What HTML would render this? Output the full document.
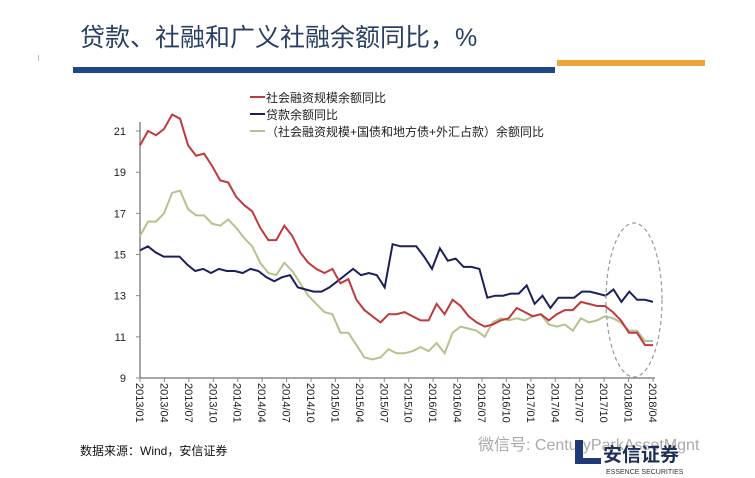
<!DOCTYPE html>
<html><head><meta charset="utf-8"><style>
html,body{margin:0;padding:0;background:#fff;}
body{width:755px;height:478px;overflow:hidden;position:relative;font-family:"Liberation Sans","Noto Sans CJK SC",sans-serif;}
</style></head><body>
<svg id="s" width="755" height="478" xmlns="http://www.w3.org/2000/svg" style="position:absolute;left:0;top:0">
<text x="80" y="46" font-size="25" fill="#2a3f66" font-family="Liberation Sans, Noto Sans CJK SC, sans-serif">贷款、社融和广义社融余额同比，%</text>
<rect x="73" y="67" width="482" height="6" fill="#1f4788"/>
<rect x="557" y="60" width="148" height="6" fill="#eba53a"/>
<rect x="38" y="55" width="1" height="6" fill="#bbb"/>
<g stroke="#888" stroke-width="1.5" fill="none">
<line x1="140" y1="122" x2="140" y2="378"/>
<line x1="140" y1="378" x2="655" y2="378"/>
</g>
<g id="ticks"></g>
<g id="lines"></g>
<ellipse cx="634" cy="300" rx="28" ry="77" fill="none" stroke="#999" stroke-dasharray="4,3" stroke-width="1.2"/>
<g font-size="12" fill="#222">
<line x1="250" y1="97" x2="265" y2="97" stroke="#c0393f" stroke-width="2"/>
<text x="266" y="102">社会融资规模余额同比</text>
<line x1="250" y1="114" x2="265" y2="114" stroke="#1c1f5e" stroke-width="2"/>
<text x="266" y="119">贷款余额同比</text>
<line x1="250" y1="131" x2="265" y2="131" stroke="#b5c28d" stroke-width="2"/>
<text x="266" y="136">（社会融资规模+国债和地方债+外汇占款）余额同比</text>
</g>
<text x="80" y="455" font-size="12" fill="#111">数据来源：Wind，安信证券</text>
<text x="478" y="450" font-size="16" fill="#aaa">微信号: CenturyParkAssetMgnt</text>
<path d="M575 440 h8 v18 h18 v6 h-26z" fill="#1f3a78"/>
<text x="603" y="461" font-size="19" fill="#1f2f55" font-weight="bold">安信证券</text>
<text x="606" y="474" font-size="7" fill="#333">ESSENCE SECURITIES</text>
</svg>
<script>
var red=[20.3,21,20.8,21.1,21.8,21.6,20.3,19.8,19.9,19.3,18.6,18.5,17.8,17.4,17.1,16.3,15.7,15.7,16.4,15.9,15.1,14.6,14.3,14.1,14.3,13.6,13.8,12.8,12.3,12.0,11.7,12.1,12.1,12.2,12.0,11.8,11.8,12.6,12.1,12.8,12.5,12.0,11.7,11.5,11.6,11.8,11.9,12.4,12.2,12.0,12.1,11.8,12.1,12.3,12.3,12.7,12.6,12.5,12.5,12.2,11.8,11.2,11.2,10.6,10.6];
var blue=[15.2,15.4,15.1,14.9,14.9,14.9,14.5,14.2,14.3,14.1,14.3,14.2,14.2,14.1,14.3,14.2,13.9,13.7,13.9,14.0,13.4,13.3,13.2,13.2,13.4,13.7,14.0,14.3,14.0,14.1,14.0,13.4,15.5,15.4,15.4,15.4,14.9,14.3,15.3,14.7,14.8,14.4,14.4,14.3,12.9,13.0,13.0,13.1,13.1,13.5,12.6,13.0,12.4,12.9,12.9,12.9,13.2,13.2,13.1,13.0,13.3,12.7,13.2,12.8,12.8,12.7];
var green=[15.9,16.6,16.6,17.0,18.0,18.1,17.2,16.9,16.9,16.5,16.4,16.7,16.3,15.8,15.4,14.6,14.1,14.0,14.6,14.2,13.6,13.0,12.6,12.2,12.1,11.2,11.2,10.6,10.0,9.9,10.0,10.4,10.2,10.2,10.3,10.5,10.3,10.7,10.2,11.2,11.5,11.4,11.3,11.0,11.7,11.9,11.8,11.9,11.8,12.0,12.1,11.6,11.5,11.6,11.3,11.9,11.7,11.8,12.0,11.9,11.7,11.3,11.3,10.8,10.8];
var NS="http://www.w3.org/2000/svg";
function Y(v){return 378-(v-9)*20.58;}
function pl(a,c){var n=a.length,p=[];for(var i=0;i<n;i++)p.push((140+i*513/(n-1)).toFixed(1)+","+Y(a[i]).toFixed(1));
var e=document.createElementNS(NS,"polyline");e.setAttribute("points",p.join(" "));e.setAttribute("fill","none");e.setAttribute("stroke",c);e.setAttribute("stroke-width","2");document.getElementById("lines").appendChild(e);}
pl(green,"#b5c28d");pl(blue,"#1c1f5e");pl(red,"#c0393f");
var t=document.getElementById("ticks");
for(var v=9;v<=21;v+=2){var tx=document.createElementNS(NS,"text");tx.setAttribute("x","126");tx.setAttribute("y",Y(v)+4);tx.setAttribute("text-anchor","end");tx.setAttribute("font-size","11");tx.setAttribute("fill","#222");tx.textContent=v;t.appendChild(tx);
var l=document.createElementNS(NS,"line");l.setAttribute("x1","136");l.setAttribute("x2","140");l.setAttribute("y1",Y(v));l.setAttribute("y2",Y(v));l.setAttribute("stroke","#888");t.appendChild(l);}
var m=["01","04","07","10"];
for(var k=0;k<22;k++){var x=140+k*513/21;var lab=(2013+Math.floor(k/4))+"/"+m[k%4];
var tx=document.createElementNS(NS,"text");tx.setAttribute("transform","translate("+(x-4)+",383) rotate(90)");tx.setAttribute("font-size","11");tx.setAttribute("fill","#222");tx.textContent=lab;t.appendChild(tx);
var l=document.createElementNS(NS,"line");l.setAttribute("x1",x);l.setAttribute("x2",x);l.setAttribute("y1","378");l.setAttribute("y2","382");l.setAttribute("stroke","#888");t.appendChild(l);}
</script>
</body></html>
